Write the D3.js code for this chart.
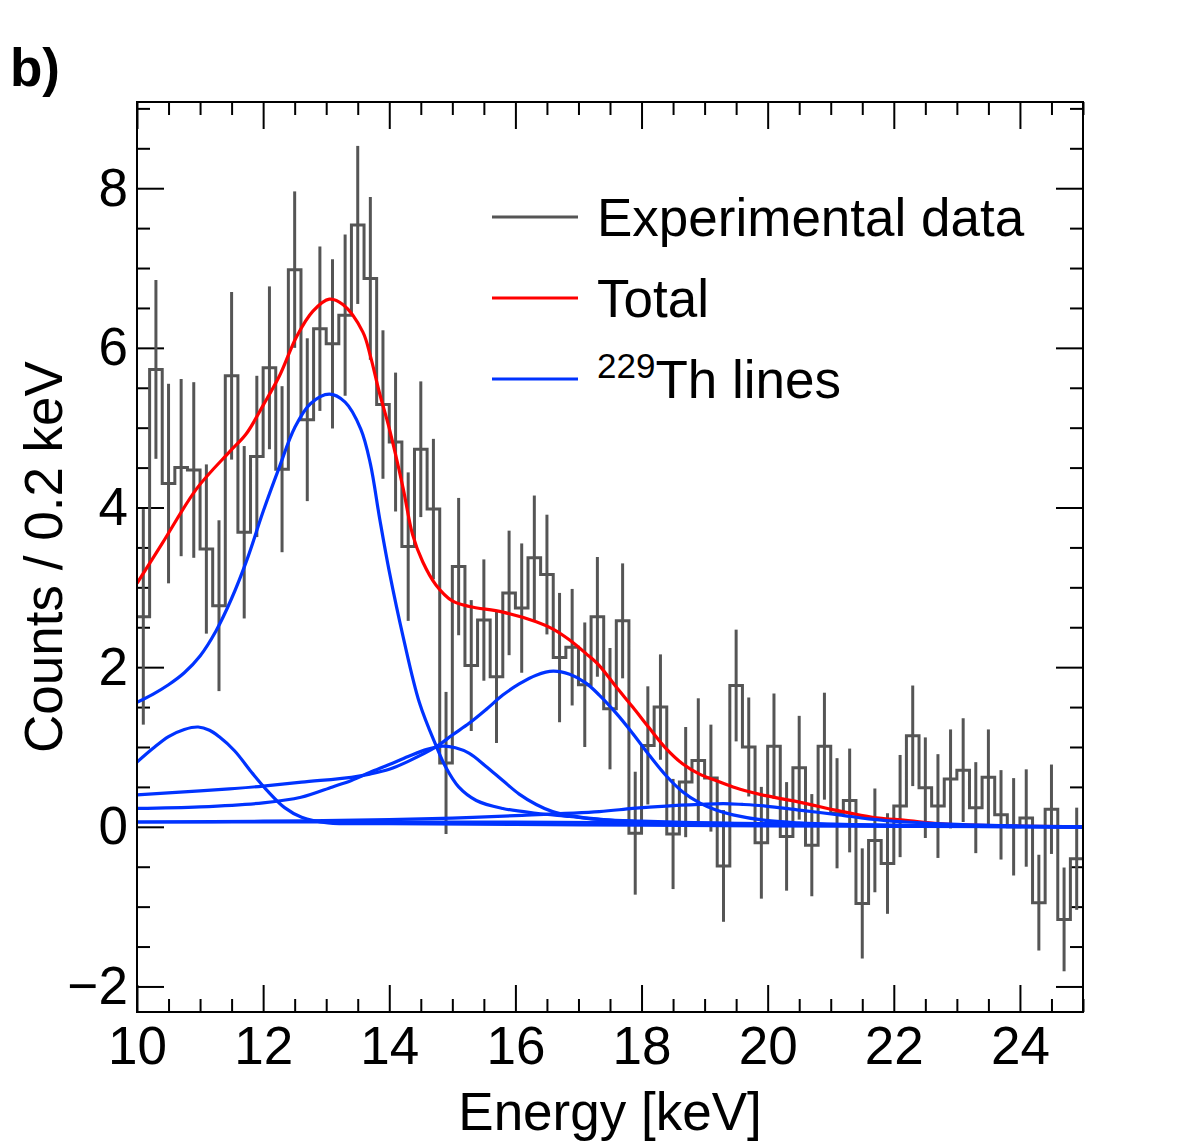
<!DOCTYPE html>
<html>
<head>
<meta charset="utf-8">
<script src="https://cdn.jsdelivr.net/npm/d3@7"></script>
<style>
  body { margin: 0; background: #fff; }
  svg { display: block; font-family: "Liberation Sans", Arial, Helvetica, sans-serif; }
</style>
</head>
<body>
<svg width="1182" height="1146"></svg>
<script>
// histogram: 0.2 keV bins starting at 10 keV
const binStart = 10;
const binWidth = 0.2;
const counts = [
  2.63, 5.73, 4.30, 4.50, 4.47, 3.48, 2.77, 5.65, 3.69, 4.64,
  5.75, 4.48, 6.98, 5.10, 6.24, 6.05, 6.41, 7.54, 6.87, 5.29,
  4.82, 3.51, 4.73, 3.98, 0.80, 3.26, 2.02, 2.59, 1.88, 2.93,
  2.74, 3.37, 3.16, 2.12, 2.25, 1.78, 2.63, 1.48, 2.58, -0.08,
  1.02, 1.50, -0.09, 0.56, 0.83, 0.61, -0.49, 1.77, 1.00, -0.20,
  1.01, -0.12, 0.74, -0.23, 1.01, 0.17, 0.33, -0.96, -0.17, -0.46,
  0.26, 1.14, 0.49, 0.26, 0.60, 0.71, 0.24, 0.62, 0.15, 0.00,
  0.11, -0.95, 0.22, -1.16, -0.40
];
const errors = [
  1.35, 1.12, 1.25, 1.11, 1.10, 1.06, 1.07, 1.05, 1.08, 1.01,
  1.02, 1.04, 0.98, 1.02, 1.03, 1.06, 1.01, 0.99, 1.02, 0.93,
  0.87, 0.93, 0.85, 0.88, 0.89, 0.86, 0.82, 0.76, 0.83, 0.78,
  0.81, 0.78, 0.75, 0.81, 0.73, 0.78, 0.75, 0.76, 0.72, 0.77,
  0.74, 0.66, 0.69, 0.69, 0.78, 0.67, 0.70, 0.70, 0.62, 0.70,
  0.66, 0.68, 0.65, 0.64, 0.67, 0.69, 0.65, 0.69, 0.65, 0.63,
  0.64, 0.63, 0.63, 0.65, 0.62, 0.65, 0.57, 0.60, 0.56, 0.61,
  0.61, 0.60, 0.56, 0.65, 0.64
];

// fit curves as [keV, counts]
const totalFit = [
  [10.0, 3.05], [10.4, 3.55], [10.95, 4.24], [11.47, 4.70], [11.73, 4.92],
  [12.0, 5.28], [12.26, 5.65], [12.53, 6.14], [12.79, 6.46], [13.05, 6.61],
  [13.27, 6.54], [13.58, 6.20], [13.7, 5.90], [13.84, 5.45], [14.0, 4.99],
  [14.22, 4.24], [14.37, 3.66], [14.53, 3.32], [14.74, 3.03], [15.0, 2.83],
  [15.27, 2.76], [15.8, 2.69], [16.33, 2.57], [16.59, 2.48], [16.86, 2.34],
  [17.12, 2.17], [17.33, 2.02], [17.59, 1.76], [17.86, 1.50], [18.12, 1.24],
  [18.39, 0.98], [18.65, 0.79], [18.92, 0.66], [19.18, 0.58], [19.45, 0.50],
  [19.71, 0.44], [19.97, 0.39], [20.5, 0.31], [21.13, 0.20], [21.66, 0.12],
  [22.19, 0.08], [22.71, 0.04], [23.24, 0.02], [25.0, 0.0]
];
const lineA = [
  [10.0, 0.81], [10.25, 0.98], [10.5, 1.13], [10.75, 1.22], [10.97, 1.25],
  [11.15, 1.21], [11.3, 1.13], [11.55, 0.95], [11.81, 0.69], [12.08, 0.44],
  [12.34, 0.24], [12.61, 0.12], [13.03, 0.05], [14.0, 0.04], [16.0, 0.03],
  [18.0, 0.02], [20.0, 0.01], [25.0, 0.0]
];
const lineB = [
  [10.0, 1.56], [10.25, 1.66], [10.5, 1.78], [10.75, 1.93], [11.0, 2.14],
  [11.25, 2.45], [11.5, 2.86], [11.75, 3.36], [12.0, 3.95], [12.25, 4.49],
  [12.5, 5.00], [12.75, 5.30], [13.05, 5.42], [13.3, 5.32], [13.55, 4.98],
  [13.7, 4.55], [13.85, 3.85], [14.0, 3.20], [14.22, 2.38], [14.48, 1.55],
  [14.74, 1.02], [14.9, 0.74], [15.1, 0.50], [15.38, 0.33], [15.8, 0.23],
  [16.33, 0.17], [16.86, 0.13], [17.5, 0.08], [18.5, 0.05], [20.0, 0.03],
  [22.0, 0.01], [25.0, 0.0]
];
const lineC = [
  [10.0, 0.23], [11.0, 0.25], [12.0, 0.30], [12.6, 0.37], [13.1, 0.50],
  [13.4, 0.58], [13.69, 0.68], [14.0, 0.78], [14.3, 0.88], [14.6, 0.97],
  [14.85, 1.01], [15.05, 0.99], [15.27, 0.92], [15.53, 0.76], [15.8, 0.58],
  [16.06, 0.41], [16.33, 0.28], [16.59, 0.19], [16.86, 0.14], [17.4, 0.09],
  [18.0, 0.07], [19.0, 0.05], [20.0, 0.03], [22.0, 0.01], [25.0, 0.0]
];
const lineD = [
  [10.0, 0.40], [11.0, 0.45], [11.55, 0.48], [12.0, 0.51], [12.61, 0.56],
  [13.4, 0.62], [13.69, 0.66], [14.0, 0.72], [14.3, 0.82], [14.74, 1.00],
  [15.0, 1.15], [15.27, 1.30], [15.55, 1.48], [15.8, 1.65], [16.06, 1.79],
  [16.33, 1.90], [16.6, 1.95], [16.86, 1.91], [17.12, 1.80], [17.33, 1.65],
  [17.59, 1.43], [17.86, 1.17], [18.12, 0.90], [18.39, 0.64], [18.65, 0.44],
  [18.92, 0.30], [19.18, 0.21], [19.45, 0.15], [19.97, 0.08], [20.5, 0.05],
  [21.13, 0.03], [22.0, 0.015], [25.0, 0.0]
];
const lineE = [
  [10.0, 0.06], [12.0, 0.07], [14.0, 0.09], [15.0, 0.11], [16.0, 0.14],
  [17.33, 0.19], [17.86, 0.23], [18.39, 0.26], [18.92, 0.28], [19.3, 0.29],
  [19.6, 0.28], [19.97, 0.26], [20.5, 0.21], [21.13, 0.15], [21.6, 0.10],
  [22.2, 0.06], [23.0, 0.03], [24.0, 0.01], [25.0, 0.0]
];
const lineF = [
  [10.0, 0.06], [13.0, 0.06], [16.0, 0.06], [18.0, 0.05], [20.0, 0.04],
  [22.0, 0.02], [25.0, 0.0]
];
const thLines = [lineA, lineB, lineC, lineD, lineE, lineF];

const xMajor = [10, 12, 14, 16, 18, 20, 22, 24];
const yMajor = [-2, 0, 2, 4, 6, 8];
const legendItems = [
  { label: "Experimental data", color: "#555555" },
  { label: "Total", color: "#ff0000" },
  { label: "Th lines", sup: "229", color: "#0033ff" }
];

const svg = d3.select("svg");
const frame = { left: 137, right: 1083, top: 102, bottom: 1012 };
const x = d3.scaleLinear().domain([10, 25]).range([frame.left, frame.right]);
const y = d3.scaleLinear().domain([-2.32, 9.08]).range([frame.bottom, frame.top]);
const font = 53;

svg.append("clipPath").attr("id", "plot")
  .append("rect").attr("x", frame.left).attr("y", frame.top)
  .attr("width", frame.right - frame.left).attr("height", frame.bottom - frame.top);

// minor tick values
const xMinor = d3.range(10, 25.001, 0.5).filter(v => !xMajor.includes(v));
const yMinor = d3.range(-2, 9.001, 0.5).filter(v => !yMajor.includes(v));

function drawAxis(gen, transform, values, size, labels) {
  const g = svg.append("g").attr("transform", transform)
    .call(gen.tickValues(values).tickSize(-size).tickSizeOuter(0)
      .tickFormat(labels ? d3.format("d") : ""));
  g.select(".domain").remove();
  g.selectAll(".tick line").attr("stroke", "#000").attr("stroke-width", 2);
  g.selectAll(".tick text").attr("font-size", font).attr("fill", "#000");
  return g;
}

drawAxis(d3.axisBottom(x).tickPadding(14), `translate(0,${frame.bottom})`, xMajor, 27, true);
drawAxis(d3.axisBottom(x), `translate(0,${frame.bottom})`, xMinor, 13, false);
drawAxis(d3.axisTop(x), `translate(0,${frame.top})`, xMajor, 27, false);
drawAxis(d3.axisTop(x), `translate(0,${frame.top})`, xMinor, 13, false);
drawAxis(d3.axisLeft(y).tickPadding(9), `translate(${frame.left},0)`, yMajor, 27, true);
drawAxis(d3.axisLeft(y), `translate(${frame.left},0)`, yMinor, 13, false);
drawAxis(d3.axisRight(y), `translate(${frame.right},0)`, yMajor, 27, false);
drawAxis(d3.axisRight(y), `translate(${frame.right},0)`, yMinor, 13, false);

// histogram outline + error bars
const bins = counts.map((c, i) => ({ x0: binStart + i * binWidth, v: c, e: errors[i] }));
const stepPts = bins.map(b => [b.x0, b.v])
  .concat([[binStart + bins.length * binWidth, counts[counts.length - 1]]]);
const plot = svg.append("g").attr("clip-path", "url(#plot)");

plot.append("g").selectAll("line").data(bins).join("line")
  .attr("x1", b => x(b.x0 + binWidth / 2)).attr("x2", b => x(b.x0 + binWidth / 2))
  .attr("y1", b => y(b.v - b.e)).attr("y2", b => y(b.v + b.e))
  .attr("stroke", "#555555").attr("stroke-width", 3);

plot.append("path")
  .attr("d", d3.line().x(d => x(d[0])).y(d => y(d[1])).curve(d3.curveStepAfter)(stepPts))
  .attr("fill", "none").attr("stroke", "#555555").attr("stroke-width", 3);

const curve = d3.line().x(d => x(d[0])).y(d => y(d[1])).curve(d3.curveCatmullRom.alpha(0.5));

plot.append("path").attr("d", curve(totalFit))
  .attr("fill", "none").attr("stroke", "#ff0000").attr("stroke-width", 3.2);

plot.append("g").selectAll("path").data(thLines).join("path")
  .attr("d", d => curve(d))
  .attr("fill", "none").attr("stroke", "#0033ff").attr("stroke-width", 3.2);

// frame
svg.append("rect").attr("x", frame.left).attr("y", frame.top)
  .attr("width", frame.right - frame.left).attr("height", frame.bottom - frame.top)
  .attr("fill", "none").attr("stroke", "#000").attr("stroke-width", 2);

// legend
const leg = svg.append("g");
legendItems.forEach((it, i) => {
  const ly = 217 + i * 81;
  leg.append("line").attr("x1", 492).attr("x2", 578).attr("y1", ly).attr("y2", ly)
    .attr("stroke", it.color).attr("stroke-width", 3);
  const t = leg.append("text").attr("x", 597).attr("y", ly + 19)
    .attr("font-size", font).attr("fill", "#000");
  if (it.sup) {
    t.append("tspan").attr("font-size", 35).attr("dy", -20).text(it.sup);
    t.append("tspan").attr("dy", 20).text(it.label);
  } else {
    t.text(it.label);
  }
});

// titles
svg.append("text").attr("x", (frame.left + frame.right) / 2).attr("y", 1130)
  .attr("text-anchor", "middle").attr("font-size", font).text("Energy [keV]");
svg.append("text").attr("transform", `translate(62,${(frame.top + frame.bottom) / 2}) rotate(-90)`)
  .attr("text-anchor", "middle").attr("font-size", font).text("Counts / 0.2 keV");
svg.append("text").attr("x", 10).attr("y", 86)
  .attr("font-size", font).attr("font-weight", "bold").text("b)");
</script>
</body>
</html>
